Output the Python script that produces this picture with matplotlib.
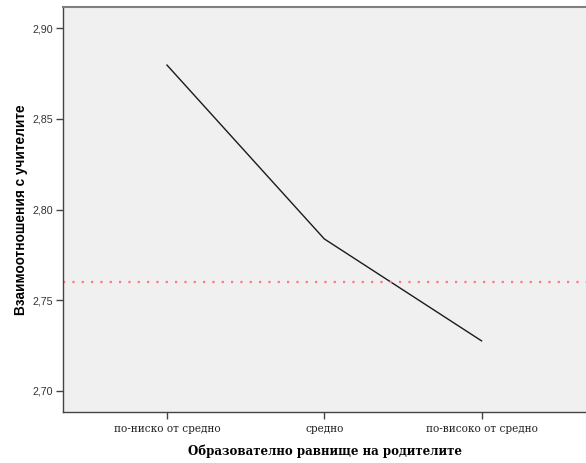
import numpy as np
import matplotlib
matplotlib.use('Agg')
import matplotlib.pyplot as plt
from matplotlib.ticker import FuncFormatter

# Data
groups = ['по-ниско от средно', 'средно', 'по-високо от средно']
means = [2.8796, 2.7838, 2.7276]
ref_value = 2.760
y_ticks = [2.70, 2.75, 2.80, 2.85, 2.90]

fig = plt.figure(figsize=(5.86, 4.63), dpi=100)
ax = fig.add_axes([63/586, 51/463, 523/586, 405/463])
ax.set_facecolor('#f0f0f0')

x = np.arange(len(groups))
ax.plot(x, means, color='#1a1a1a', lw=1.0)
ax.axhline(ref_value, color='#ff7878', lw=1.6, ls=(0, (1, 3.2)))

ax.set_xlim(-0.661, 2.664)
ax.set_ylim(2.6884, 2.9116)
ax.set_xticks(x)
ax.set_xticklabels(groups, family='DejaVu Serif', fontsize=7.6, color='#222222')
ax.set_yticks(y_ticks)
ax.yaxis.set_major_formatter(FuncFormatter(lambda v, p: f'{v:.2f}'.replace('.', ',')))
for lab in ax.get_yticklabels():
    lab.set_family('Liberation Sans')
    lab.set_fontsize(7.7)
    lab.set_color('#333333')
ax.tick_params(axis='both', direction='out', length=5, width=1, color='#444444', pad=2)
ax.tick_params(axis='x', pad=3.5)

for side in ['left', 'bottom']:
    ax.spines[side].set_color('#444444')
    ax.spines[side].set_linewidth(1)
ax.spines['top'].set_color('#808080')
ax.spines['top'].set_linewidth(1.5)
ax.spines['right'].set_visible(False)

ax.set_xlabel('Образователно равнище на родителите', family='DejaVu Serif',
              fontsize=8.5, fontweight='bold', labelpad=7.5)
ax.set_ylabel('Взаимоотношения с учителите', family='Liberation Sans',
              fontsize=9.8, fontweight='bold', labelpad=3)

fig.savefig('out.png', dpi=100, facecolor='white')
